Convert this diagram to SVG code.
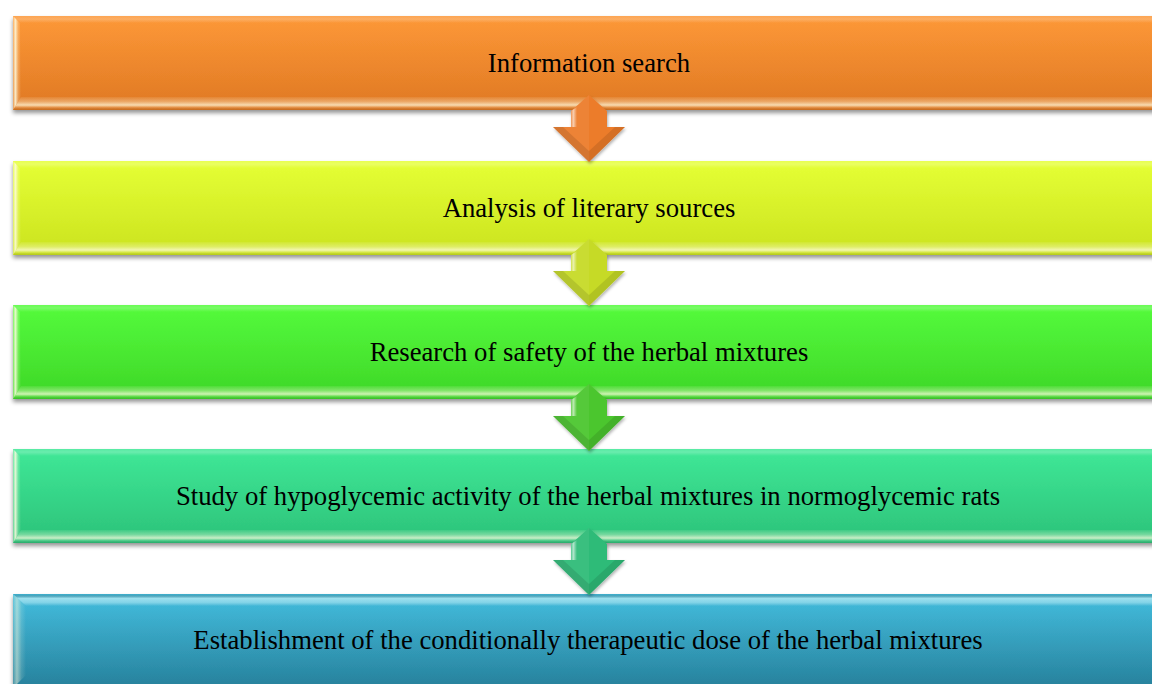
<svg xmlns="http://www.w3.org/2000/svg" width="1152" height="684" viewBox="0 0 1152 684">
  <style>
    .label { font-family: "Liberation Serif", "Times New Roman", serif; font-size: 26.7px; fill: #000; text-anchor: middle; }
    .bevTop { fill: url(#bevTop); }
    .bevBottom { fill: url(#bevBottom); }
    .bevLeft { fill: url(#bevLeft); }
    .shade { fill: url(#shade); }
    .arrowLight { fill: #ffffff; opacity: 0.06; }
    .arrowDark { fill: #000000; opacity: 0.1; }
    .arrowEdge { fill: url(#edgeGlow); }
  </style>
  <defs>
    <filter id="shadow" x="-5%" y="-20%" width="110%" height="150%">
      <feDropShadow dx="0" dy="3" stdDeviation="2.2" flood-color="#000" flood-opacity="0.42"/>
    </filter>
    <filter id="arrowShadow" x="-30%" y="-30%" width="160%" height="160%">
      <feDropShadow dx="1" dy="2" stdDeviation="1.8" flood-color="#000" flood-opacity="0.3"/>
    </filter>

    <!-- body fills -->
    <linearGradient id="bodyOrange" x1="0" y1="0" x2="0" y2="1">
      <stop offset="0" stop-color="#FD9430"/><stop offset="1" stop-color="#E87D24"/>
    </linearGradient>
    <linearGradient id="bodyYellow" x1="0" y1="0" x2="0" y2="1">
      <stop offset="0" stop-color="#E4FF2E"/><stop offset="1" stop-color="#D3EC1F"/>
    </linearGradient>
    <linearGradient id="bodyGreen" x1="0" y1="0" x2="0" y2="1">
      <stop offset="0" stop-color="#4EFB34"/><stop offset="1" stop-color="#40DF29"/>
    </linearGradient>
    <linearGradient id="bodyTeal" x1="0" y1="0" x2="0" y2="1">
      <stop offset="0" stop-color="#38E793"/><stop offset="1" stop-color="#2DCA7E"/>
    </linearGradient>
    <linearGradient id="bodyBlue" x1="0" y1="0" x2="0" y2="1">
      <stop offset="0" stop-color="#3CBBDD"/><stop offset="1" stop-color="#2886A2"/>
    </linearGradient>

    <!-- bevel overlays shared by every bar -->
    <linearGradient id="shade" x1="0" y1="0" x2="0" y2="1">
      <stop offset="0" stop-color="#fff" stop-opacity="0.04"/>
      <stop offset="1" stop-color="#000" stop-opacity="0.04"/>
    </linearGradient>
    <linearGradient id="bevTop" x1="0" y1="0" x2="0" y2="1">
      <stop offset="0" stop-color="#fff" stop-opacity="0.12"/>
      <stop offset="0.45" stop-color="#fff" stop-opacity="0.22"/>
      <stop offset="1" stop-color="#fff" stop-opacity="0"/>
    </linearGradient>
    <linearGradient id="bevTopStrong" x1="0" y1="0" x2="0" y2="1">
      <stop offset="0" stop-color="#000" stop-opacity="0.05"/>
      <stop offset="0.35" stop-color="#E8FFFF" stop-opacity="0.55"/>
      <stop offset="0.7" stop-color="#E8FFFF" stop-opacity="0.4"/>
      <stop offset="1" stop-color="#fff" stop-opacity="0"/>
    </linearGradient>
    <linearGradient id="bevBottom" x1="0" y1="0" x2="0" y2="1">
      <stop offset="0" stop-color="#FFFCE0" stop-opacity="0.08"/>
      <stop offset="0.35" stop-color="#FFFCE0" stop-opacity="0.35"/>
      <stop offset="0.62" stop-color="#FFFCE0" stop-opacity="0.75"/>
      <stop offset="0.8" stop-color="#FFFCE0" stop-opacity="0.2"/>
      <stop offset="1" stop-color="#000" stop-opacity="0.1"/>
    </linearGradient>
    <linearGradient id="bevLeft" x1="0" y1="0" x2="1" y2="0">
      <stop offset="0" stop-color="#FFFCE0" stop-opacity="0.25"/>
      <stop offset="0.3" stop-color="#FFFCE0" stop-opacity="0.85"/>
      <stop offset="0.65" stop-color="#FFFCE0" stop-opacity="0.25"/>
      <stop offset="1" stop-color="#FFFCE0" stop-opacity="0"/>
    </linearGradient>
    <linearGradient id="edgeGlow" x1="0" y1="0" x2="1" y2="0">
      <stop offset="0" stop-color="#fff" stop-opacity="0.15"/>
      <stop offset="0.4" stop-color="#fff" stop-opacity="0.6"/>
      <stop offset="1" stop-color="#fff" stop-opacity="0"/>
    </linearGradient>

    <!-- block arrow, tip-down, drawn from the shaft peak -->
    <g id="arrowShape">
      <polygon points="589,0 607,16 607,32 625,32 589,67 553,32 571,32 571,16"/>
    </g>
  </defs>

  <rect width="1152" height="684" fill="#ffffff"/>

  <g id="step1" transform="translate(0,16)">
    <rect x="13" y="0" width="1160" height="94" fill="url(#bodyOrange)" filter="url(#shadow)"/>
    <rect x="13" y="0" width="1160" height="94" class="shade"/>
    <polygon class="bevTop" points="13,0 1173,0 1173,7 20,7"/>
    <polygon class="bevBottom" points="13,94 21,81 1173,81 1173,94"/>
    <polygon class="bevLeft" points="13,0 20,7 21,81 13,94"/>
    <text class="label" x="589" y="56">Information search</text>
  </g>

  <g id="step2" transform="translate(0,161)">
    <rect x="13" y="0" width="1160" height="94" fill="url(#bodyYellow)" filter="url(#shadow)"/>
    <rect x="13" y="0" width="1160" height="94" class="shade"/>
    <polygon class="bevTop" points="13,0 1173,0 1173,7 20,7"/>
    <polygon class="bevBottom" points="13,94 21,81 1173,81 1173,94"/>
    <polygon class="bevLeft" points="13,0 20,7 21,81 13,94"/>
    <text class="label" x="589" y="56">Analysis of literary sources</text>
  </g>

  <g id="step3" transform="translate(0,305)">
    <rect x="13" y="0" width="1160" height="94" fill="url(#bodyGreen)" filter="url(#shadow)"/>
    <rect x="13" y="0" width="1160" height="94" class="shade"/>
    <polygon class="bevTop" points="13,0 1173,0 1173,7 20,7"/>
    <polygon class="bevBottom" points="13,94 21,81 1173,81 1173,94"/>
    <polygon class="bevLeft" points="13,0 20,7 21,81 13,94"/>
    <text class="label" x="589" y="56">Research of safety of the herbal mixtures</text>
  </g>

  <g id="step4" transform="translate(0,449)">
    <rect x="13" y="0" width="1160" height="94" fill="url(#bodyTeal)" filter="url(#shadow)"/>
    <rect x="13" y="0" width="1160" height="94" class="shade"/>
    <polygon class="bevTop" points="13,0 1173,0 1173,7 20,7"/>
    <polygon class="bevBottom" points="13,94 21,81 1173,81 1173,94"/>
    <polygon class="bevLeft" points="13,0 20,7 21,81 13,94"/>
    <text class="label" x="588" y="56">Study of hypoglycemic activity of the herbal mixtures in normoglycemic rats</text>
  </g>

  <g id="step5" transform="translate(0,594)">
    <rect x="13" y="0" width="1160" height="94" fill="url(#bodyBlue)" filter="url(#shadow)"/>
    <rect x="13" y="0" width="1160" height="94" class="shade"/>
    <polygon fill="url(#bevTopStrong)" points="13,0 1173,0 1173,12 26,12"/>
    <polygon class="bevLeft" points="13,0 26,12 26,81 13,94" opacity="0.6"/>
    <text class="label" x="588" y="55">Establishment of the conditionally therapeutic dose of the herbal mixtures</text>
  </g>

  <g id="connectors">
    <g transform="translate(0,95)">
      <use href="#arrowShape" fill="#EC7C2A" filter="url(#arrowShadow)"/>
      <polygon class="arrowLight" points="589,0 571,16 571,32 553,32 589,67"/>
      <polygon class="arrowDark" points="589,67 625,32 615,32 589,56 563,32 553,32"/>
      <polygon class="arrowEdge" points="571,16 577,12 577,32 571,32"/>
    </g>
    <g transform="translate(0,239)">
      <use href="#arrowShape" fill="#C6DA27" filter="url(#arrowShadow)"/>
      <polygon class="arrowLight" points="589,0 571,16 571,32 553,32 589,67"/>
      <polygon class="arrowDark" points="589,67 625,32 615,32 589,56 563,32 553,32"/>
      <polygon class="arrowEdge" points="571,16 577,12 577,32 571,32"/>
    </g>
    <g transform="translate(0,384)">
      <use href="#arrowShape" fill="#4CC62E" filter="url(#arrowShadow)"/>
      <polygon class="arrowLight" points="589,0 571,16 571,32 553,32 589,67"/>
      <polygon class="arrowDark" points="589,67 625,32 615,32 589,56 563,32 553,32"/>
      <polygon class="arrowEdge" points="571,16 577,12 577,32 571,32"/>
    </g>
    <g transform="translate(0,528)">
      <use href="#arrowShape" fill="#2DBB78" filter="url(#arrowShadow)"/>
      <polygon class="arrowLight" points="589,0 571,16 571,32 553,32 589,67"/>
      <polygon class="arrowDark" points="589,67 625,32 615,32 589,56 563,32 553,32"/>
      <polygon class="arrowEdge" points="571,16 577,12 577,32 571,32"/>
    </g>
  </g>
</svg>
